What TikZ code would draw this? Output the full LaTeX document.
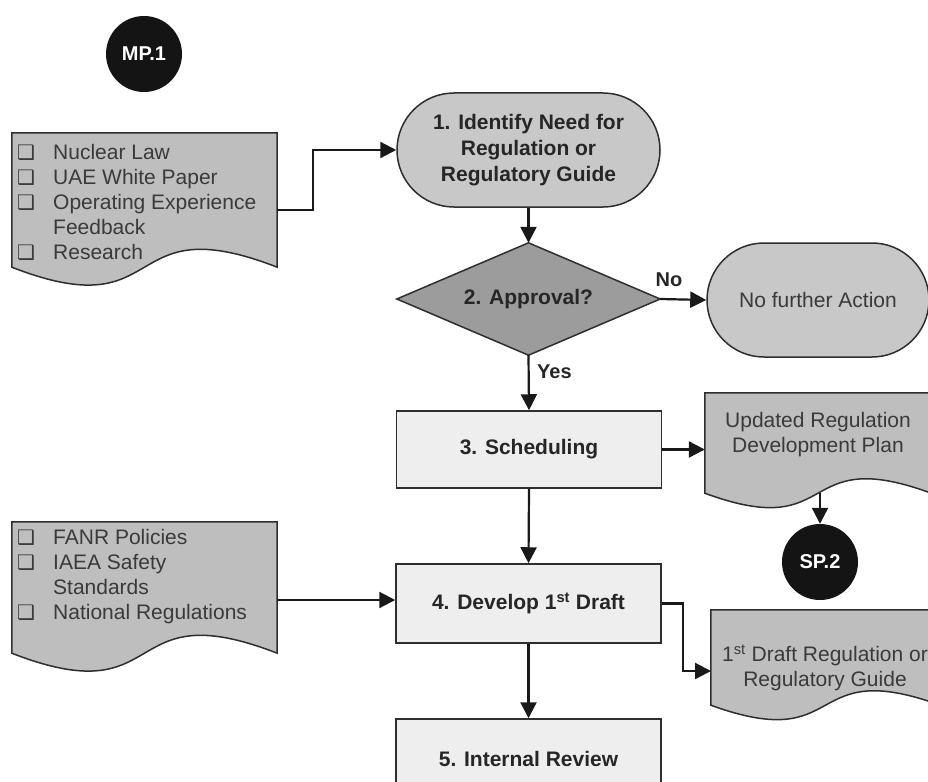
\documentclass[tikz,border=0pt]{standalone}
\usepackage{fontspec}
\setmainfont{Liberation Sans}
\newfontfamily\dejavu{DejaVu Sans}
\usetikzlibrary{arrows.meta,shapes.geometric,calc}
\definecolor{docfill}{HTML}{BEBEBE}
\definecolor{termfill}{HTML}{C8C8C8}
\definecolor{decfill}{HTML}{9C9C9C}
\definecolor{procfill}{HTML}{EEEEEE}
\definecolor{edge}{HTML}{2E2E2E}
\definecolor{doctext}{HTML}{3A3A3A}
\newcommand\bul{\makebox[36pt][l]{\dejavu\fontsize{20}{25}\selectfont ❑}}
\newcommand\docshape[2]{%
  \draw[docline] (#1.south west) -- (#1.north west) -- (#1.north east) -- (#1.south east)
    .. controls ($(#1.south west)!0.4!(#1.south east)+(0,-#2)$) and ($(#1.south west)!0.6!(#1.south east)+(0,#2)$) .. (#1.south west) -- cycle;}
\tikzset{
  docbox/.style={rectangle, draw=none, inner sep=0pt},
  docline/.style={draw=edge, line width=1.5pt, fill=docfill},
  doctxt/.style={inner sep=0pt, text=doctext, font=\fontsize{21}{25}\selectfont},
  term/.style={rectangle, rounded corners=57pt, draw=edge, line width=1.5pt, fill=termfill,
    minimum height=114pt, inner sep=0pt, align=center},
  decline/.style={draw=edge, line width=1.5pt, fill=decfill},
  proc/.style={rectangle, draw=edge, line width=1.5pt, fill=procfill, minimum width=265pt,
    minimum height=77pt, inner sep=0pt, font=\bfseries\fontsize{21}{26}\selectfont, text=black!85},
  circ/.style={circle, fill=black!92, minimum size=76pt, inner sep=0pt, text=white,
    font=\bfseries\fontsize{20}{24}\selectfont},
  conn/.style={draw=black!90, line width=2.2pt, -{Triangle[length=16pt,width=16pt]}},
  lbl/.style={inner sep=0pt, font=\bfseries\fontsize{20}{24}\selectfont, text=black!85}
}
\begin{document}
\begin{tikzpicture}[x=1pt,y=-1pt]
\useasboundingbox (0,0) rectangle (928,781);
\clip (0,0) rectangle (928,781);
\fill[white] (0,0) rectangle (928,781);

% circles
\node[circ] (mp1) at (144,54) {MP.1};

% document 1
\node[docbox, minimum width=265pt, minimum height=134pt] (d1) at (144.5,200) {};
\docshape{d1}{62}
\node[doctxt, anchor=west, align=left] (t1) at (17,202)
  {\bul Nuclear Law\\ \bul UAE White Paper\\ \bul Operating Experience\\ \hspace*{36pt}Feedback\\ \bul Research};
\coordinate (d1out) at (277,210);

% terminator 1
\node[term, minimum width=263pt, font=\bfseries\fontsize{21}{26}\selectfont, text=black!85] (s1) at (528.5,150)
  {1. Identify Need for\\ Regulation or\\ Regulatory Guide};

% decision
\node[docbox, minimum width=263pt, minimum height=112pt] (dia) at (528.5,299) {};
\draw[decline] (dia.west) -- (dia.north) -- (dia.east) -- (dia.south) -- cycle;
\node[lbl, font=\bfseries\fontsize{21}{26}\selectfont] (diat) at (dia.center) {2. Approval?};

% terminator 2
\node[term, minimum width=222pt, font=\fontsize{21}{26}\selectfont, text=doctext] (s2) at (818,300)
  {No further Action};

% process 3
\node[proc] (sch) at (529,449.5) {3. Scheduling};

% document 2
\node[docbox, minimum width=226pt, minimum height=100pt] (d2) at (818,443) {};
\docshape{d2}{50}
\node[doctxt, align=center] (t2) at (818,435) {Updated Regulation\\ Development Plan};
\coordinate (d2out) at (820,493);

\node[circ] (sp2) at (820,562) {SP.2};

% document 3
\node[docbox, minimum width=265pt, minimum height=131pt] (d3) at (144.5,587.5) {};
\docshape{d3}{62}
\node[doctxt, anchor=west, align=left] (t3) at (17,576.5)
  {\bul FANR Policies\\ \bul IAEA Safety\\ \hspace*{36pt}Standards\\ \bul National Regulations};

% process 4
\node[proc, minimum height=79pt] (dev) at (528.5,603.5) {4. Develop 1\textsuperscript{st} Draft};
\coordinate (d3out) at (277,600);

% document 4
\node[docbox, minimum width=229pt, minimum height=95pt] (d4) at (825.5,657.5) {};
\docshape{d4}{50}
\node[doctxt, align=center] (t4) at (825,668) {1\textsuperscript{st} Draft Regulation or\\ Regulatory Guide};
\coordinate (d4in) at (711,671);

% process 5
\node[proc, minimum height=79pt] (rev) at (528.5,758.5) {5. Internal Review};

% connectors
\draw[conn] (d1out) -- ++(36,0) |- (s1.west);
\draw[conn] (s1.south) -- (dia.north);
\draw[conn] (dia.east) -- (s2.west);
\node[lbl] (no) at (669,280) {No};
\draw[conn] (dia.south) -- (sch.north);
\node[lbl, anchor=west] (yes) at (537,372) {Yes};
\draw[conn] (sch.east) -- (sch.east -| d2.west);
\draw[conn] (d2out) -- (sp2.north);
\draw[conn] (sch.south) -- (dev.north);
\draw[conn] (d3out) -- (d3out -| dev.west);
\draw[conn] (dev.east) -- ++(21,0) |- (d4in);
\draw[conn] (dev.south) -- (rev.north);
\end{tikzpicture}
\end{document}
